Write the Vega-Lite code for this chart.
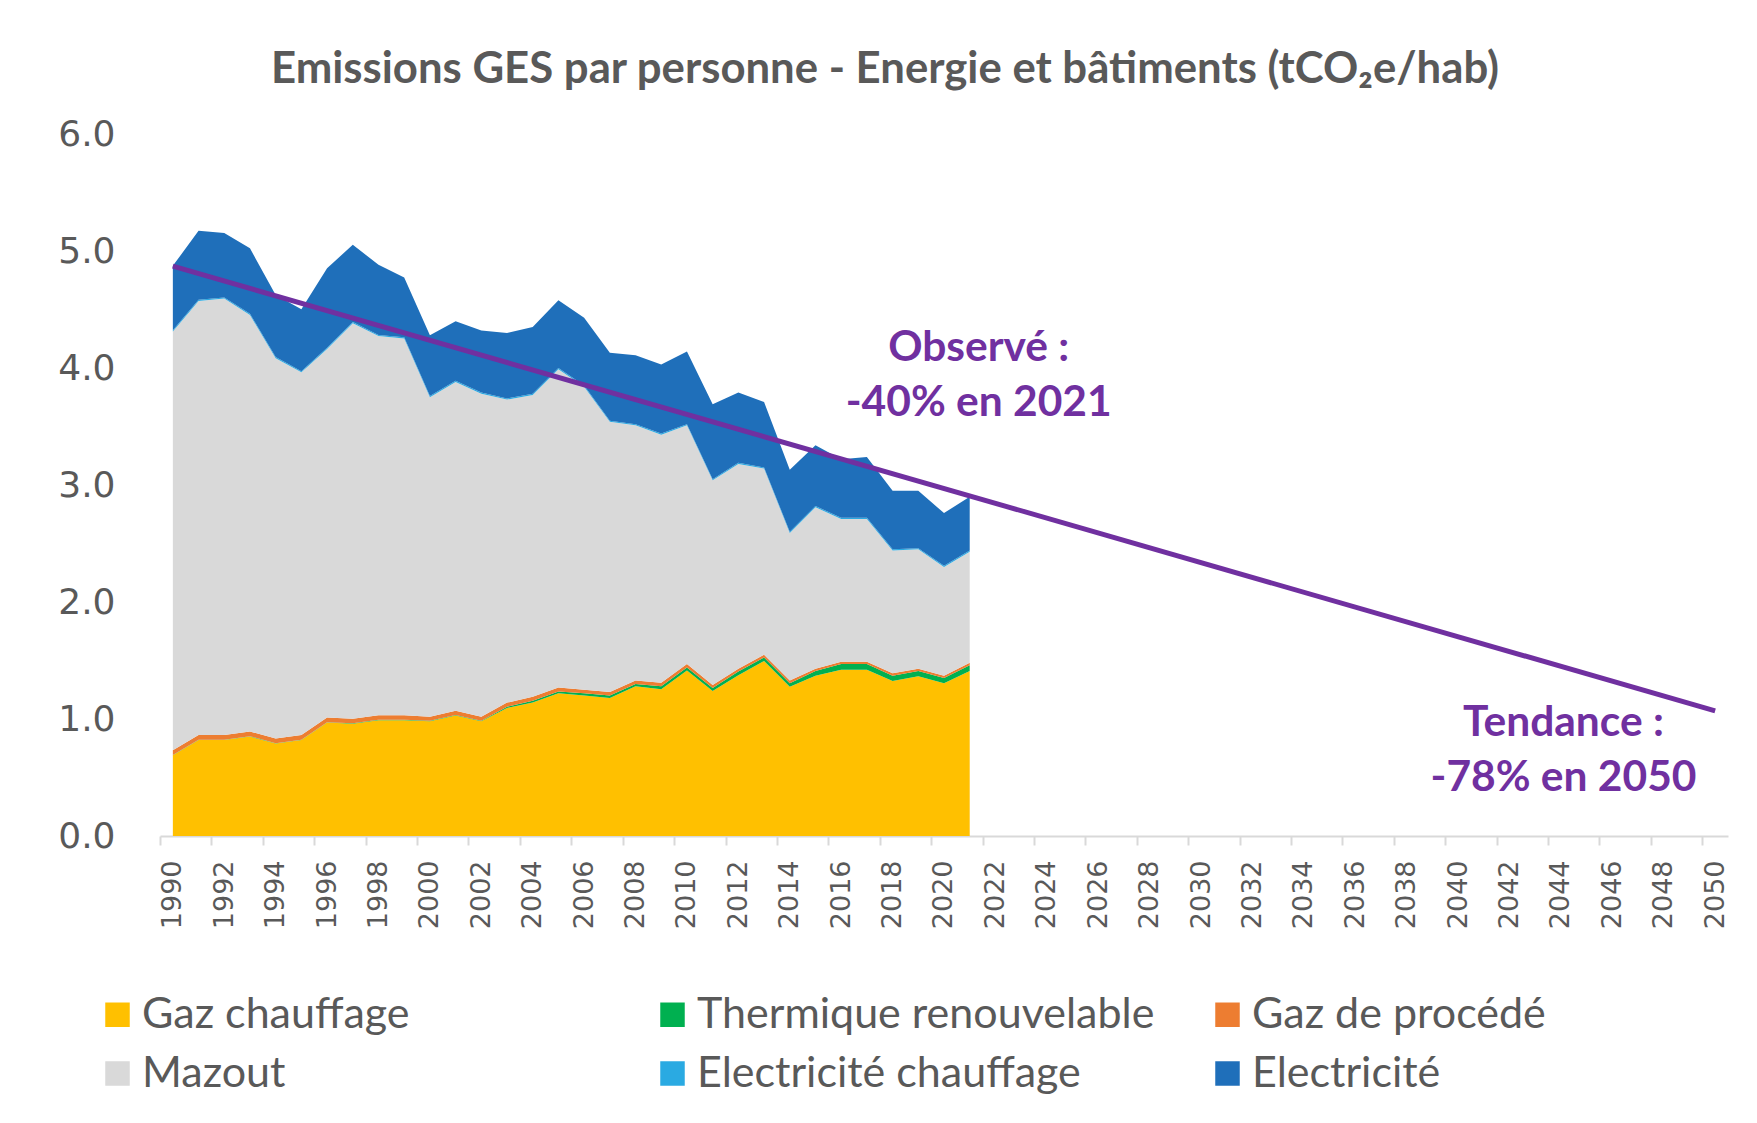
{
  "$schema": "https://vega.github.io/schema/vega-lite/v6.json",
  "width": 1568,
  "height": 702,
  "autosize": {"type": "none"},
  "padding": {"left": 160, "top": 134, "right": 29, "bottom": 287},
  "background": "white",
  "config": {"view": {"stroke": null}, "font": "Lato"},
  "title": {
    "text": "Emissions GES par personne - Energie et bâtiments (tCO₂e/hab)",
    "font": "Lato", "fontWeight": "bold", "fontSize": 43.7, "color": "#595959",
    "anchor": "middle", "dx": -59, "baseline": "alphabetic", "offset": -11
  },
  "datasets": {
    "emissions": [
      {"annee":1990,"serie":"Gaz chauffage","rang":1,"v":0.69},{"annee":1990,"serie":"Thermique renouvelable","rang":2,"v":0.003},{"annee":1990,"serie":"Gaz de procédé","rang":3,"v":0.04},{"annee":1990,"serie":"Mazout","rang":4,"v":3.58},{"annee":1990,"serie":"Electricité chauffage","rang":5,"v":0.01},{"annee":1990,"serie":"Electricité","rang":6,"v":0.55},
      {"annee":1991,"serie":"Gaz chauffage","rang":1,"v":0.82},{"annee":1991,"serie":"Thermique renouvelable","rang":2,"v":0.003},{"annee":1991,"serie":"Gaz de procédé","rang":3,"v":0.04},{"annee":1991,"serie":"Mazout","rang":4,"v":3.71},{"annee":1991,"serie":"Electricité chauffage","rang":5,"v":0.01},{"annee":1991,"serie":"Electricité","rang":6,"v":0.59},
      {"annee":1992,"serie":"Gaz chauffage","rang":1,"v":0.82},{"annee":1992,"serie":"Thermique renouvelable","rang":2,"v":0.003},{"annee":1992,"serie":"Gaz de procédé","rang":3,"v":0.04},{"annee":1992,"serie":"Mazout","rang":4,"v":3.73},{"annee":1992,"serie":"Electricité chauffage","rang":5,"v":0.01},{"annee":1992,"serie":"Electricité","rang":6,"v":0.55},
      {"annee":1993,"serie":"Gaz chauffage","rang":1,"v":0.85},{"annee":1993,"serie":"Thermique renouvelable","rang":2,"v":0.003},{"annee":1993,"serie":"Gaz de procédé","rang":3,"v":0.04},{"annee":1993,"serie":"Mazout","rang":4,"v":3.56},{"annee":1993,"serie":"Electricité chauffage","rang":5,"v":0.01},{"annee":1993,"serie":"Electricité","rang":6,"v":0.56},
      {"annee":1994,"serie":"Gaz chauffage","rang":1,"v":0.79},{"annee":1994,"serie":"Thermique renouvelable","rang":2,"v":0.003},{"annee":1994,"serie":"Gaz de procédé","rang":3,"v":0.04},{"annee":1994,"serie":"Mazout","rang":4,"v":3.25},{"annee":1994,"serie":"Electricité chauffage","rang":5,"v":0.01},{"annee":1994,"serie":"Electricité","rang":6,"v":0.53},
      {"annee":1995,"serie":"Gaz chauffage","rang":1,"v":0.82},{"annee":1995,"serie":"Thermique renouvelable","rang":2,"v":0.003},{"annee":1995,"serie":"Gaz de procédé","rang":3,"v":0.04},{"annee":1995,"serie":"Mazout","rang":4,"v":3.10},{"annee":1995,"serie":"Electricité chauffage","rang":5,"v":0.01},{"annee":1995,"serie":"Electricité","rang":6,"v":0.53},
      {"annee":1996,"serie":"Gaz chauffage","rang":1,"v":0.97},{"annee":1996,"serie":"Thermique renouvelable","rang":2,"v":0.003},{"annee":1996,"serie":"Gaz de procédé","rang":3,"v":0.04},{"annee":1996,"serie":"Mazout","rang":4,"v":3.15},{"annee":1996,"serie":"Electricité chauffage","rang":5,"v":0.01},{"annee":1996,"serie":"Electricité","rang":6,"v":0.68},
      {"annee":1997,"serie":"Gaz chauffage","rang":1,"v":0.96},{"annee":1997,"serie":"Thermique renouvelable","rang":2,"v":0.003},{"annee":1997,"serie":"Gaz de procédé","rang":3,"v":0.04},{"annee":1997,"serie":"Mazout","rang":4,"v":3.38},{"annee":1997,"serie":"Electricité chauffage","rang":5,"v":0.01},{"annee":1997,"serie":"Electricité","rang":6,"v":0.66},
      {"annee":1998,"serie":"Gaz chauffage","rang":1,"v":0.99},{"annee":1998,"serie":"Thermique renouvelable","rang":2,"v":0.003},{"annee":1998,"serie":"Gaz de procédé","rang":3,"v":0.04},{"annee":1998,"serie":"Mazout","rang":4,"v":3.24},{"annee":1998,"serie":"Electricité chauffage","rang":5,"v":0.01},{"annee":1998,"serie":"Electricité","rang":6,"v":0.60},
      {"annee":1999,"serie":"Gaz chauffage","rang":1,"v":0.99},{"annee":1999,"serie":"Thermique renouvelable","rang":2,"v":0.003},{"annee":1999,"serie":"Gaz de procédé","rang":3,"v":0.04},{"annee":1999,"serie":"Mazout","rang":4,"v":3.22},{"annee":1999,"serie":"Electricité chauffage","rang":5,"v":0.01},{"annee":1999,"serie":"Electricité","rang":6,"v":0.51},
      {"annee":2000,"serie":"Gaz chauffage","rang":1,"v":0.98},{"annee":2000,"serie":"Thermique renouvelable","rang":2,"v":0.005},{"annee":2000,"serie":"Gaz de procédé","rang":3,"v":0.035},{"annee":2000,"serie":"Mazout","rang":4,"v":2.73},{"annee":2000,"serie":"Electricité chauffage","rang":5,"v":0.01},{"annee":2000,"serie":"Electricité","rang":6,"v":0.52},
      {"annee":2001,"serie":"Gaz chauffage","rang":1,"v":1.03},{"annee":2001,"serie":"Thermique renouvelable","rang":2,"v":0.005},{"annee":2001,"serie":"Gaz de procédé","rang":3,"v":0.035},{"annee":2001,"serie":"Mazout","rang":4,"v":2.81},{"annee":2001,"serie":"Electricité chauffage","rang":5,"v":0.01},{"annee":2001,"serie":"Electricité","rang":6,"v":0.51},
      {"annee":2002,"serie":"Gaz chauffage","rang":1,"v":0.98},{"annee":2002,"serie":"Thermique renouvelable","rang":2,"v":0.005},{"annee":2002,"serie":"Gaz de procédé","rang":3,"v":0.035},{"annee":2002,"serie":"Mazout","rang":4,"v":2.76},{"annee":2002,"serie":"Electricité chauffage","rang":5,"v":0.01},{"annee":2002,"serie":"Electricité","rang":6,"v":0.53},
      {"annee":2003,"serie":"Gaz chauffage","rang":1,"v":1.095},{"annee":2003,"serie":"Thermique renouvelable","rang":2,"v":0.01},{"annee":2003,"serie":"Gaz de procédé","rang":3,"v":0.035},{"annee":2003,"serie":"Mazout","rang":4,"v":2.59},{"annee":2003,"serie":"Electricité chauffage","rang":5,"v":0.01},{"annee":2003,"serie":"Electricité","rang":6,"v":0.56},
      {"annee":2004,"serie":"Gaz chauffage","rang":1,"v":1.14},{"annee":2004,"serie":"Thermique renouvelable","rang":2,"v":0.015},{"annee":2004,"serie":"Gaz de procédé","rang":3,"v":0.035},{"annee":2004,"serie":"Mazout","rang":4,"v":2.58},{"annee":2004,"serie":"Electricité chauffage","rang":5,"v":0.01},{"annee":2004,"serie":"Electricité","rang":6,"v":0.57},
      {"annee":2005,"serie":"Gaz chauffage","rang":1,"v":1.22},{"annee":2005,"serie":"Thermique renouvelable","rang":2,"v":0.015},{"annee":2005,"serie":"Gaz de procédé","rang":3,"v":0.035},{"annee":2005,"serie":"Mazout","rang":4,"v":2.72},{"annee":2005,"serie":"Electricité chauffage","rang":5,"v":0.01},{"annee":2005,"serie":"Electricité","rang":6,"v":0.58},
      {"annee":2006,"serie":"Gaz chauffage","rang":1,"v":1.20},{"annee":2006,"serie":"Thermique renouvelable","rang":2,"v":0.02},{"annee":2006,"serie":"Gaz de procédé","rang":3,"v":0.03},{"annee":2006,"serie":"Mazout","rang":4,"v":2.59},{"annee":2006,"serie":"Electricité chauffage","rang":5,"v":0.01},{"annee":2006,"serie":"Electricité","rang":6,"v":0.58},
      {"annee":2007,"serie":"Gaz chauffage","rang":1,"v":1.18},{"annee":2007,"serie":"Thermique renouvelable","rang":2,"v":0.02},{"annee":2007,"serie":"Gaz de procédé","rang":3,"v":0.03},{"annee":2007,"serie":"Mazout","rang":4,"v":2.31},{"annee":2007,"serie":"Electricité chauffage","rang":5,"v":0.01},{"annee":2007,"serie":"Electricité","rang":6,"v":0.58},
      {"annee":2008,"serie":"Gaz chauffage","rang":1,"v":1.28},{"annee":2008,"serie":"Thermique renouvelable","rang":2,"v":0.02},{"annee":2008,"serie":"Gaz de procédé","rang":3,"v":0.03},{"annee":2008,"serie":"Mazout","rang":4,"v":2.18},{"annee":2008,"serie":"Electricité chauffage","rang":5,"v":0.01},{"annee":2008,"serie":"Electricité","rang":6,"v":0.59},
      {"annee":2009,"serie":"Gaz chauffage","rang":1,"v":1.255},{"annee":2009,"serie":"Thermique renouvelable","rang":2,"v":0.025},{"annee":2009,"serie":"Gaz de procédé","rang":3,"v":0.03},{"annee":2009,"serie":"Mazout","rang":4,"v":2.12},{"annee":2009,"serie":"Electricité chauffage","rang":5,"v":0.01},{"annee":2009,"serie":"Electricité","rang":6,"v":0.59},
      {"annee":2010,"serie":"Gaz chauffage","rang":1,"v":1.415},{"annee":2010,"serie":"Thermique renouvelable","rang":2,"v":0.025},{"annee":2010,"serie":"Gaz de procédé","rang":3,"v":0.03},{"annee":2010,"serie":"Mazout","rang":4,"v":2.04},{"annee":2010,"serie":"Electricité chauffage","rang":5,"v":0.01},{"annee":2010,"serie":"Electricité","rang":6,"v":0.62},
      {"annee":2011,"serie":"Gaz chauffage","rang":1,"v":1.24},{"annee":2011,"serie":"Thermique renouvelable","rang":2,"v":0.025},{"annee":2011,"serie":"Gaz de procédé","rang":3,"v":0.025},{"annee":2011,"serie":"Mazout","rang":4,"v":1.75},{"annee":2011,"serie":"Electricité chauffage","rang":5,"v":0.01},{"annee":2011,"serie":"Electricité","rang":6,"v":0.64},
      {"annee":2012,"serie":"Gaz chauffage","rang":1,"v":1.375},{"annee":2012,"serie":"Thermique renouvelable","rang":2,"v":0.03},{"annee":2012,"serie":"Gaz de procédé","rang":3,"v":0.025},{"annee":2012,"serie":"Mazout","rang":4,"v":1.75},{"annee":2012,"serie":"Electricité chauffage","rang":5,"v":0.01},{"annee":2012,"serie":"Electricité","rang":6,"v":0.60},
      {"annee":2013,"serie":"Gaz chauffage","rang":1,"v":1.495},{"annee":2013,"serie":"Thermique renouvelable","rang":2,"v":0.03},{"annee":2013,"serie":"Gaz de procédé","rang":3,"v":0.025},{"annee":2013,"serie":"Mazout","rang":4,"v":1.59},{"annee":2013,"serie":"Electricité chauffage","rang":5,"v":0.01},{"annee":2013,"serie":"Electricité","rang":6,"v":0.56},
      {"annee":2014,"serie":"Gaz chauffage","rang":1,"v":1.275},{"annee":2014,"serie":"Thermique renouvelable","rang":2,"v":0.03},{"annee":2014,"serie":"Gaz de procédé","rang":3,"v":0.025},{"annee":2014,"serie":"Mazout","rang":4,"v":1.26},{"annee":2014,"serie":"Electricité chauffage","rang":5,"v":0.01},{"annee":2014,"serie":"Electricité","rang":6,"v":0.53},
      {"annee":2015,"serie":"Gaz chauffage","rang":1,"v":1.37},{"annee":2015,"serie":"Thermique renouvelable","rang":2,"v":0.04},{"annee":2015,"serie":"Gaz de procédé","rang":3,"v":0.02},{"annee":2015,"serie":"Mazout","rang":4,"v":1.38},{"annee":2015,"serie":"Electricité chauffage","rang":5,"v":0.01},{"annee":2015,"serie":"Electricité","rang":6,"v":0.52},
      {"annee":2016,"serie":"Gaz chauffage","rang":1,"v":1.42},{"annee":2016,"serie":"Thermique renouvelable","rang":2,"v":0.05},{"annee":2016,"serie":"Gaz de procédé","rang":3,"v":0.02},{"annee":2016,"serie":"Mazout","rang":4,"v":1.22},{"annee":2016,"serie":"Electricité chauffage","rang":5,"v":0.01},{"annee":2016,"serie":"Electricité","rang":6,"v":0.50},
      {"annee":2017,"serie":"Gaz chauffage","rang":1,"v":1.42},{"annee":2017,"serie":"Thermique renouvelable","rang":2,"v":0.05},{"annee":2017,"serie":"Gaz de procédé","rang":3,"v":0.02},{"annee":2017,"serie":"Mazout","rang":4,"v":1.22},{"annee":2017,"serie":"Electricité chauffage","rang":5,"v":0.01},{"annee":2017,"serie":"Electricité","rang":6,"v":0.52},
      {"annee":2018,"serie":"Gaz chauffage","rang":1,"v":1.325},{"annee":2018,"serie":"Thermique renouvelable","rang":2,"v":0.045},{"annee":2018,"serie":"Gaz de procédé","rang":3,"v":0.02},{"annee":2018,"serie":"Mazout","rang":4,"v":1.05},{"annee":2018,"serie":"Electricité chauffage","rang":5,"v":0.01},{"annee":2018,"serie":"Electricité","rang":6,"v":0.50},
      {"annee":2019,"serie":"Gaz chauffage","rang":1,"v":1.365},{"annee":2019,"serie":"Thermique renouvelable","rang":2,"v":0.045},{"annee":2019,"serie":"Gaz de procédé","rang":3,"v":0.02},{"annee":2019,"serie":"Mazout","rang":4,"v":1.02},{"annee":2019,"serie":"Electricité chauffage","rang":5,"v":0.01},{"annee":2019,"serie":"Electricité","rang":6,"v":0.49},
      {"annee":2020,"serie":"Gaz chauffage","rang":1,"v":1.305},{"annee":2020,"serie":"Thermique renouvelable","rang":2,"v":0.045},{"annee":2020,"serie":"Gaz de procédé","rang":3,"v":0.02},{"annee":2020,"serie":"Mazout","rang":4,"v":0.93},{"annee":2020,"serie":"Electricité chauffage","rang":5,"v":0.01},{"annee":2020,"serie":"Electricité","rang":6,"v":0.45},
      {"annee":2021,"serie":"Gaz chauffage","rang":1,"v":1.41},{"annee":2021,"serie":"Thermique renouvelable","rang":2,"v":0.05},{"annee":2021,"serie":"Gaz de procédé","rang":3,"v":0.02},{"annee":2021,"serie":"Mazout","rang":4,"v":0.95},{"annee":2021,"serie":"Electricité chauffage","rang":5,"v":0.01},{"annee":2021,"serie":"Electricité","rang":6,"v":0.46}
    ],
    "tendance": [
      {"annee": 1990, "v": 4.87},
      {"annee": 2050, "v": 1.07}
    ]
  },
  "layer": [
    {
      "data": {"name": "emissions"},
      "mark": {"type": "area", "interpolate": "linear"},
      "encoding": {
        "x": {
          "field": "annee", "type": "quantitative",
          "scale": {"domain": [1989.5, 2050.5], "nice": false, "zero": false},
          "axis": {
            "values": [1989.5,1990.5,1991.5,1992.5,1993.5,1994.5,1995.5,1996.5,1997.5,1998.5,1999.5,2000.5,2001.5,2002.5,2003.5,2004.5,2005.5,2006.5,2007.5,2008.5,2009.5,2010.5,2011.5,2012.5,2013.5,2014.5,2015.5,2016.5,2017.5,2018.5,2019.5,2020.5,2021.5,2022.5,2023.5,2024.5,2025.5,2026.5,2027.5,2028.5,2029.5,2030.5,2031.5,2032.5,2033.5,2034.5,2035.5,2036.5,2037.5,2038.5,2039.5,2040.5,2041.5,2042.5,2043.5,2044.5,2045.5,2046.5,2047.5,2048.5,2049.5,2050.5],
            "labelExpr": "(datum.value + 0.5) % 2 == 0 ? '' + (datum.value + 0.5) : ''",
            "labelAngle": -90,
            "labelOffset": 12.85,
            "labelFont": "DejaVu Sans",
            "labelFontSize": 27,
            "labelColor": "#595959",
            "labelPadding": 15,
            "labelOverlap": false,
            "labelBound": false,
            "labelFlush": false,
            "tickSize": 9,
            "tickColor": "#D9D9D9",
            "tickWidth": 2,
            "domainColor": "#D9D9D9",
            "domainWidth": 2,
            "grid": false,
            "title": null
          }
        },
        "y": {
          "field": "v", "type": "quantitative", "stack": "zero",
          "scale": {"domain": [0, 6], "nice": false},
          "axis": {
            "values": [0, 1, 2, 3, 4, 5, 6],
            "format": ".1f",
            "labelFont": "DejaVu Sans",
            "labelFontSize": 36,
            "labelColor": "#595959",
            "labelPadding": 45,
            "labelFlush": false,
            "ticks": false,
            "tickSize": 0,
            "domain": false,
            "grid": false,
            "title": null
          }
        },
        "color": {
          "field": "serie", "type": "nominal",
          "scale": {
            "domain": ["Gaz chauffage", "Thermique renouvelable", "Gaz de procédé", "Mazout", "Electricité chauffage", "Electricité"],
            "range": ["#FFC000", "#00B050", "#ED7D31", "#D9D9D9", "#2AAAE2", "#1F6FBA"]
          },
          "legend": {
            "orient": "none",
            "legendX": -64,
            "legendY": 859,
            "direction": "horizontal",
            "columns": 3,
            "gridAlign": "all",
            "columnPadding": 51,
            "rowPadding": 15,
            "title": null,
            "symbolType": "square",
            "symbolSize": 600,
            "symbolStrokeWidth": 0,
            "labelFont": "Lato",
            "labelFontSize": 43,
            "labelColor": "#595959",
            "labelOffset": 3,
            "labelLimit": 0
          }
        },
        "order": {"field": "rang", "type": "quantitative"}
      }
    },
    {
      "data": {"name": "tendance"},
      "mark": {"type": "line", "color": "#7030A0", "strokeWidth": 5},
      "encoding": {
        "x": {"field": "annee", "type": "quantitative"},
        "y": {"field": "v", "type": "quantitative"}
      }
    },
    {
      "data": {"values": [{}]},
      "mark": {"type": "text", "font": "Lato", "fontWeight": "bold", "fontSize": 42.5, "color": "#7030A0", "align": "center", "baseline": "middle", "lineHeight": 55},
      "encoding": {
        "x": {"datum": 2021.35, "type": "quantitative"},
        "y": {"datum": 4.17, "type": "quantitative"},
        "text": {"value": ["Observé :", "-40% en 2021"]}
      }
    },
    {
      "data": {"values": [{}]},
      "mark": {"type": "text", "font": "Lato", "fontWeight": "bold", "fontSize": 42.5, "color": "#7030A0", "align": "center", "baseline": "middle", "lineHeight": 55},
      "encoding": {
        "x": {"datum": 2044.1, "type": "quantitative"},
        "y": {"datum": 0.967, "type": "quantitative"},
        "text": {"value": ["Tendance :", "-78% en 2050"]}
      }
    }
  ]
}
